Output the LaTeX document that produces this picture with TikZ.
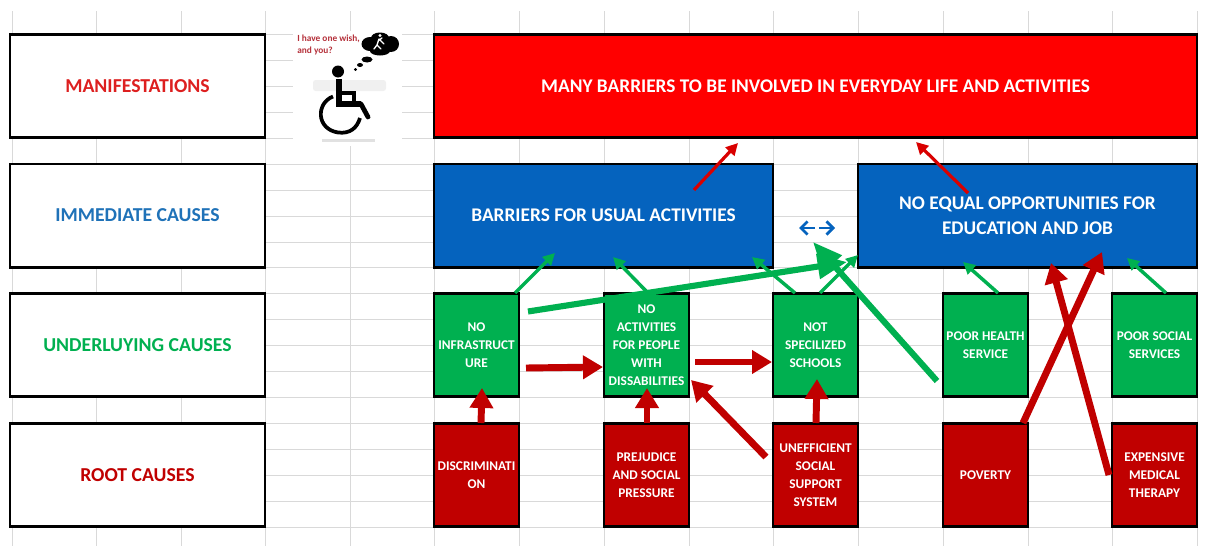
\documentclass[tikz,border=0pt]{standalone}
\usepackage{fontspec}
\setmainfont{Carlito}
\usetikzlibrary{arrows.meta}
\definecolor{cRed}{HTML}{FF0000}
\definecolor{cBlue}{HTML}{0563BE}
\definecolor{cGreen}{HTML}{00B050}
\definecolor{cDark}{HTML}{C00000}
\definecolor{cGrid}{HTML}{D9D9D9}
\definecolor{cLabRed}{HTML}{DD1F1F}
\definecolor{cLabBlue}{HTML}{1F72B8}
\definecolor{cWish}{HTML}{B5303A}
\tikzset{
  x=0.75pt,y=-0.75pt,
  boxbase/.style={draw=black,line width=1.9pt,inner sep=0pt,align=center,font=\bfseries},
  labelbox/.style={boxbase,fill=white,minimum width=191.25pt,minimum height=77.6pt,font=\fontsize{14.8}{17}\selectfont\bfseries},
  widebox/.style={boxbase,minimum height=77.6pt,text=white,font=\fontsize{14.5}{19}\selectfont\bfseries},
  smallbox/.style={boxbase,minimum width=63.75pt,minimum height=77.6pt,text=white,font=\fontsize{10}{13.5}\selectfont\bfseries},
  gridline/.style={draw=cGrid,line width=0.75pt},
  thinred/.style={draw=cRed!85!black,line width=2.4pt,-{Triangle[length=9pt,width=9pt]}},
  thingreen/.style={draw=cGreen,line width=2.6pt,-{Triangle[length=9pt,width=9pt]}},
  biggreen/.style={draw=cGreen,line width=4.6pt,-{Triangle[length=22pt,width=18pt]}},
  thickred/.style={draw=cDark,line width=5.2pt,-{Triangle[length=15pt,width=17pt]}},
  bluearrow/.style={draw=cBlue,line width=2pt,-{Straight Barb[length=5pt,width=10pt]}},
}
\begin{document}
\begin{tikzpicture}
\useasboundingbox (0,0) rectangle (1206,546);
% spreadsheet grid
\foreach \gx in {12,96,181,265,350,434,519,604,689,773,858,943,1028,1112,1197}
  \draw[gridline] (\gx,11) -- (\gx,546);
\foreach \gy in {34,60,86,112,138,164,190,216,242,267,293,319,345,371,397,423,449,475,501,527}
  \draw[gridline] (10,\gy) -- (1197,\gy);
% picture patch
\fill[white] (293,31) rectangle (402,146);
% faint watermark and caption
\fill[cGrid!40,rounded corners=2pt] (313,80) rectangle (386,91);
\fill[cGrid!80] (322,139) rectangle (375,141.5);
% thought cloud
\fill[black] (380,44) ellipse (18 and 8);
\fill[black] (370,44) ellipse (8.5 and 7);
\fill[black] (391,44) ellipse (8 and 8);
\fill[black] (380,38) ellipse (9 and 5.5);
\fill[black] (380,51) ellipse (10 and 4.5);
\fill[black] (367,59.5) ellipse (5.5 and 3);
\fill[black] (360,65) ellipse (3 and 2);
\fill[black] (355.5,69.5) ellipse (1.7 and 1.5);
\draw[white,line width=1pt,line cap=round] (379,39) -- (377,45) (379,39) -- (384,44) (377,45) -- (374,49) (377,45) -- (381,49) (378,41) -- (382,38);
\fill[white] (380,35.5) circle (1.6);
\node[text=cWish,font=\fontsize{7}{8.4}\selectfont\bfseries,align=left,anchor=north west,inner sep=0pt] (wish) at (297,35) {I have one wish,\\and you?};
% wheelchair
\fill[black] (338,71.5) circle (6);
\draw[black,line width=4.5pt] (339,79) -- (339,104) -- (361,104);
\draw[black,line width=2.4pt] (340,93) -- (354,93) -- (354,104);
\draw[black,line width=3.6pt,line cap=round] (361,104) -- (368,117);
\draw[black,line width=2.8pt] (333,96.5) .. controls (316,103) and (316,129) .. (338,132.5) .. controls (350,134) and (357,128) .. (360,118);
% row labels
\node[labelbox,text=cLabRed] (lManif) at (137.5,86) {MANIFESTATIONS};
\node[labelbox,text=cLabBlue] (lImm) at (137.5,215.5) {IMMEDIATE CAUSES};
\node[labelbox,text=cGreen] (lUnder) at (137.5,345) {UNDERLUYING CAUSES};
\node[labelbox,text=cDark] (lRoot) at (137.5,475) {ROOT CAUSES};
% top boxes
\node[widebox,fill=cRed,minimum width=572.25pt] (many) at (815.5,86) {MANY BARRIERS TO BE INVOLVED IN EVERYDAY LIFE AND ACTIVITIES};
\node[widebox,fill=cBlue,minimum width=254.25pt] (barr) at (603.5,215.5) {BARRIERS FOR USUAL ACTIVITIES};
\node[widebox,fill=cBlue,minimum width=254.25pt] (equal) at (1027.5,215.5) {NO EQUAL OPPORTUNITIES FOR\\EDUCATION AND JOB};
% green row
\node[smallbox,fill=cGreen] (g1) at (476.5,345) {NO\\INFRASTRUCT\\URE};
\node[smallbox,fill=cGreen] (g2) at (646.5,345) {NO\\ACTIVITIES\\FOR PEOPLE\\WITH\\DISSABILITIES};
\node[smallbox,fill=cGreen] (g3) at (815.5,345) {NOT\\SPECILIZED\\SCHOOLS};
\node[smallbox,fill=cGreen] (g4) at (985.5,345) {POOR HEALTH\\SERVICE};
\node[smallbox,fill=cGreen] (g5) at (1154.5,345) {POOR SOCIAL\\SERVICES};
% red row
\node[smallbox,fill=cDark] (r1) at (476.5,475) {DISCRIMINATI\\ON};
\node[smallbox,fill=cDark] (r2) at (646.5,475) {PREJUDICE\\AND SOCIAL\\PRESSURE};
\node[smallbox,fill=cDark] (r3) at (815.5,475) {UNEFFICIENT\\SOCIAL\\SUPPORT\\SYSTEM};
\node[smallbox,fill=cDark] (r4) at (985.5,475) {POVERTY};
\node[smallbox,fill=cDark] (r5) at (1154.5,475) {EXPENSIVE\\MEDICAL\\THERAPY};
% connector ends
\coordinate (a1s) at (694,190); \coordinate (a1e) at (738,143);
\coordinate (a2s) at (968,193); \coordinate (a2e) at (916,142);
\coordinate (b1s) at (515,293); \coordinate (b1e) at (555,253);
\coordinate (b2s) at (648,293); \coordinate (b2e) at (613,257);
\coordinate (b3s) at (795,293); \coordinate (b3e) at (752,257);
\coordinate (b4s) at (820,293); \coordinate (b4e) at (858,255);
\coordinate (b5s) at (998,293); \coordinate (b5e) at (963,262);
\coordinate (b6s) at (1166,293); \coordinate (b6e) at (1127,258);
\coordinate (c1s) at (528,311.5); \coordinate (c1e) at (847,262);
\coordinate (c2s) at (937,381); \coordinate (c2e) at (813,242);
\coordinate (d1s) at (526,368); \coordinate (d1e) at (603,367);
\coordinate (d2s) at (695,362); \coordinate (d2e) at (772,362);
\coordinate (d3s) at (481,423); \coordinate (d3e) at (482,388);
\coordinate (d4s) at (647,423); \coordinate (d4e) at (647,388);
\coordinate (d5s) at (816,423); \coordinate (d5e) at (817,379);
\coordinate (d6s) at (766,457); \coordinate (d6e) at (691,380);
\coordinate (d7s) at (1023,423); \coordinate (d7e) at (1102,252);
\coordinate (d8s) at (1109,475); \coordinate (d8e) at (1051,263);
\coordinate (e1s) at (815,228); \coordinate (e1e) at (799,228);
\coordinate (e2s) at (819,228); \coordinate (e2e) at (835,228);
% connectors
\draw[thinred] (a1s) -- (a1e);
\draw[thinred] (a2s) -- (a2e);
\draw[thingreen] (b1s) -- (b1e);
\draw[thingreen] (b2s) -- (b2e);
\draw[thingreen] (b3s) -- (b3e);
\draw[thingreen] (b4s) -- (b4e);
\draw[thingreen] (b5s) -- (b5e);
\draw[thingreen] (b6s) -- (b6e);
\draw[biggreen] (c1s) -- (c1e);
\draw[biggreen] (c2s) -- (c2e);
\draw[thickred] (d1s) -- (d1e);
\draw[thickred] (d2s) -- (d2e);
\draw[thickred] (d3s) -- (d3e);
\draw[thickred] (d4s) -- (d4e);
\draw[thickred] (d5s) -- (d5e);
\draw[thickred] (d6s) -- (d6e);
\draw[thickred] (d7s) -- (d7e);
\draw[thickred] (d8s) -- (d8e);
\draw[bluearrow] (e1s) -- (e1e);
\draw[bluearrow] (e2s) -- (e2e);
\end{tikzpicture}
\end{document}
